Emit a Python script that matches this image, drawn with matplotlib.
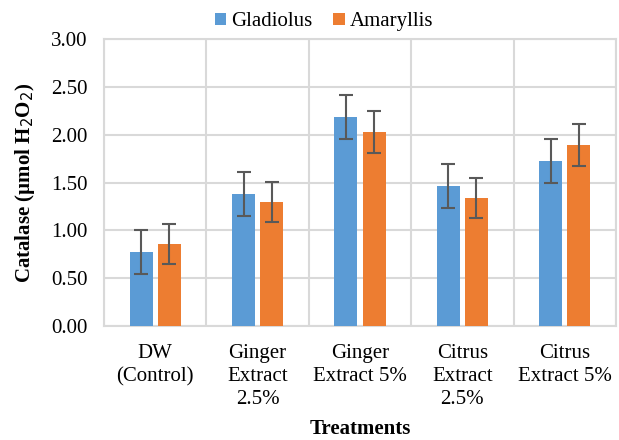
import matplotlib.pyplot as plt
from matplotlib.ticker import FixedLocator, MultipleLocator, FormatStrFormatter
import numpy as np

plt.rcParams['font.family'] = ['Liberation Serif', 'DejaVu Serif']

treatments = ['DW\n(Control)', 'Ginger\nExtract\n2.5%', 'Ginger\nExtract 5%',
              'Citrus\nExtract\n2.5%', 'Citrus\nExtract 5%']
gladiolus = [0.77, 1.38, 2.18, 1.46, 1.72]
gladiolus_err = [0.23, 0.23, 0.23, 0.23, 0.23]
amaryllis = [0.86, 1.30, 2.03, 1.34, 1.89]
amaryllis_err = [0.21, 0.21, 0.22, 0.21, 0.22]

fig = plt.figure(figsize=(6.19, 4.40), dpi=100)
ax = fig.add_axes([104/619, 1 - 326/440, 512/619, 287/440])

x = np.arange(len(treatments))
w = 0.225
errkw = dict(ecolor='#595959', elinewidth=1.5, capsize=5, capthick=1.5)
ax.bar(x - 0.137, gladiolus, w, yerr=gladiolus_err, color='#5b9bd5',
       label='Gladiolus', error_kw=errkw, zorder=3)
ax.bar(x + 0.137, amaryllis, w, yerr=amaryllis_err, color='#ed7d31',
       label='Amaryllis', error_kw=errkw, zorder=3)

ax.set_xlim(-0.5, len(treatments) - 0.5)
ax.set_ylim(0, 3.0)
ax.yaxis.set_major_locator(MultipleLocator(0.5))
ax.yaxis.set_major_formatter(FormatStrFormatter('%.2f'))
ax.set_xticks(x)
ax.set_xticklabels(treatments, fontsize=15, linespacing=1.3)
ax.xaxis.set_minor_locator(FixedLocator(np.arange(-0.5, len(treatments), 1)))
ax.tick_params(axis='y', labelsize=15, length=0, pad=12)
ax.tick_params(axis='x', which='both', length=0, pad=13)

ax.grid(axis='y', color='#d9d9d9', lw=1.5, zorder=0)
ax.grid(axis='x', which='minor', color='#d9d9d9', lw=1.5, zorder=0)
ax.grid(axis='x', which='major', visible=False)
for s in ax.spines.values():
    s.set_color('#d9d9d9')
    s.set_linewidth(1.5)

ax.set_ylabel('Catalase (µmol H$_2$O$_2$)', fontsize=15, fontweight='bold', labelpad=10)
ax.set_xlabel('Treatments', fontsize=15, fontweight='bold', labelpad=7)

ax.legend(loc='lower center', bbox_to_anchor=(0.43, 0.99), ncol=2, frameon=False,
          fontsize=15, handlelength=0.55, handleheight=0.55, handletextpad=0.25,
          columnspacing=1.0, borderaxespad=0.1)

fig.savefig('out.png', dpi=100)
